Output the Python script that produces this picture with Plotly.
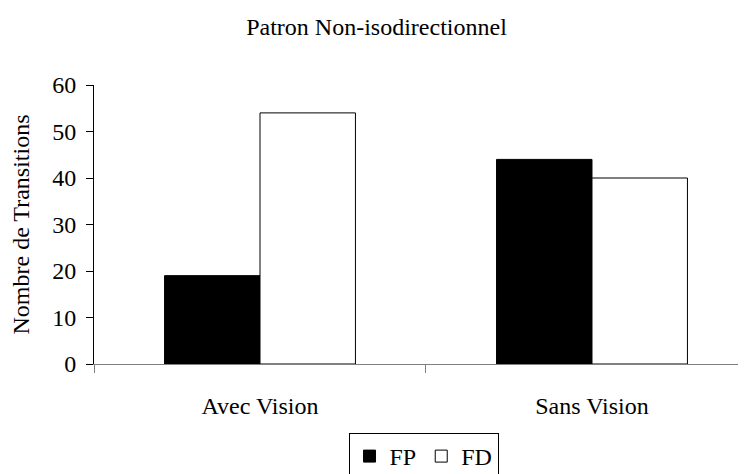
import plotly.graph_objects as go

categories = ["Avec Vision", "Sans Vision"]
fp_values = [19, 44]
fd_values = [54, 40]
y_ticks = [0, 10, 20, 30, 40, 50, 60]

FONT = "Liberation Serif, Times New Roman, serif"
FS = 24

fig = go.Figure()
fig.add_trace(go.Bar(name="FP", x=categories, y=fp_values,
                     marker=dict(color="black", line=dict(color="black", width=1))))
fig.add_trace(go.Bar(name="FD", x=categories, y=fd_values,
                     marker=dict(color="white", line=dict(color="black", width=1))))

fig.update_layout(
    width=746, height=474,
    margin=dict(l=86, r=0, t=77, b=118, autoexpand=False),
    paper_bgcolor="white", plot_bgcolor="white",
    font=dict(family=FONT, size=FS, color="black"),
    barmode="group", bargap=0.425, bargroupgap=0,
    title=dict(text="Patron Non-isodirectionnel", x=0.494, xref="container",
               y=1 - 19 / 474, yref="container", xanchor="center", yanchor="middle",
               font=dict(family=FONT, size=FS, color="black")),
    showlegend=True,
    legend=dict(orientation="h", x=0.557, xanchor="center", xref="container",
                y=1 - 425 / 474, yref="container", yanchor="top",
                bordercolor="black", borderwidth=1, bgcolor="white",
                font=dict(family=FONT, size=FS, color="black"),
                itemwidth=30, tracegroupgap=0),
)

fig.update_xaxes(
    type="category", range=[-0.5, 1.488], automargin=False,
    showline=True, linecolor="#808080", linewidth=1,
    ticks="outside", tickson="boundaries", ticklen=8, tickcolor="#808080",
    ticklabelstandoff=20,
    showgrid=False, zeroline=False,
    tickfont=dict(family=FONT, size=FS, color="black"),
)
fig.update_yaxes(
    range=[0, 60], tickvals=y_ticks, automargin=False,
    showline=True, linecolor="black", linewidth=1,
    ticks="outside", ticklen=7, tickcolor="black",
    ticklabelstandoff=5,
    showgrid=False, zeroline=False,
    tickfont=dict(family=FONT, size=FS, color="black"),
    title=dict(text="Nombre de Transitions", standoff=16,
               font=dict(family=FONT, size=FS, color="black")),
)

fig.write_html("out.html")
